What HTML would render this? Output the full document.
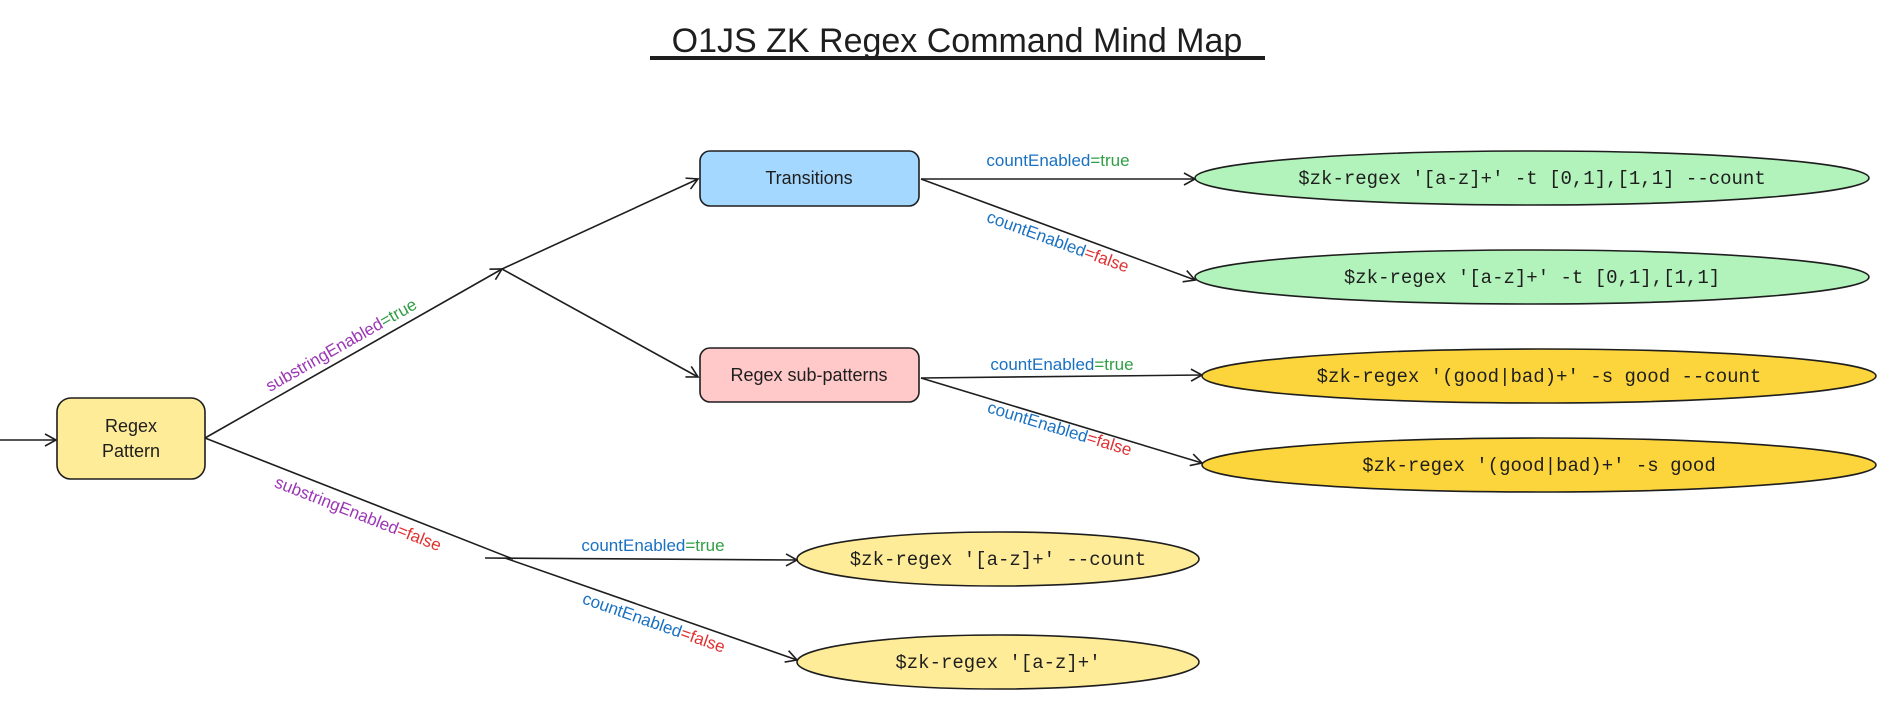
<!DOCTYPE html>
<html><head><meta charset="utf-8"><style>
html,body{margin:0;padding:0;background:#fff;}
svg{display:block;}
.l{font-family:"Liberation Sans",sans-serif;font-size:17px;}
.m{font-family:"Liberation Mono",monospace;font-size:19px;}
.n{font-family:"Liberation Sans",sans-serif;font-size:18px;}
</style></head><body>
<svg width="1893" height="722" viewBox="0 0 1893 722" xmlns="http://www.w3.org/2000/svg">
<defs><marker id="a" markerWidth="14" markerHeight="14" refX="12" refY="7" orient="auto" markerUnits="userSpaceOnUse"><path d="M1,1 L12,7 L1,13" fill="none" stroke="#1e1e1e" stroke-width="1.6"/></marker></defs>
<text x="957" y="52" text-anchor="middle" font-family="Liberation Sans,sans-serif" font-size="34" fill="#1e1e1e">O1JS ZK Regex Command Mind Map</text>
<line x1="650" y1="58" x2="1265" y2="58" stroke="#1e1e1e" stroke-width="4"/>
<g stroke="#1e1e1e" stroke-width="1.6" fill="none">
<line x1="0" y1="440" x2="56" y2="440" marker-end="url(#a)"/>
<line x1="205" y1="438" x2="502" y2="269" marker-end="url(#a)"/>
<line x1="502" y1="269" x2="698" y2="179" marker-end="url(#a)"/>
<line x1="502" y1="269" x2="698" y2="377" marker-end="url(#a)"/>
<line x1="205" y1="438" x2="513" y2="559"/>
<line x1="485" y1="558" x2="797" y2="560" marker-end="url(#a)"/>
<line x1="505" y1="558" x2="797" y2="660" marker-end="url(#a)"/>
<line x1="921" y1="179" x2="1195" y2="179" marker-end="url(#a)"/>
<line x1="921" y1="179" x2="1195" y2="280" marker-end="url(#a)"/>
<line x1="921" y1="378" x2="1202" y2="375" marker-end="url(#a)"/>
<line x1="921" y1="378" x2="1202" y2="463" marker-end="url(#a)"/>
</g>
<g stroke="#1e1e1e" stroke-width="1.6">
<rect x="57" y="398" width="148" height="81" rx="14" fill="#ffec99"/>
<rect x="700" y="151" width="219" height="55" rx="10" fill="#a5d8ff"/>
<rect x="700" y="348" width="219" height="54" rx="10" fill="#ffc9c9"/>
<ellipse cx="1532" cy="178" rx="337" ry="27" fill="#b2f2bb"/>
<ellipse cx="1532" cy="277" rx="337" ry="27" fill="#b2f2bb"/>
<ellipse cx="1539" cy="376" rx="337" ry="27" fill="#fcd43b"/>
<ellipse cx="1539" cy="465" rx="337" ry="27" fill="#fcd43b"/>
<ellipse cx="998" cy="559" rx="201" ry="27" fill="#ffec99"/>
<ellipse cx="998" cy="662" rx="201" ry="27" fill="#ffec99"/>
</g>
<g fill="#1e1e1e" text-anchor="middle">
<text class="n" x="131" y="432">Regex</text>
<text class="n" x="131" y="457">Pattern</text>
<text class="n" x="809" y="184">Transitions</text>
<text class="n" x="809" y="381">Regex sub-patterns</text>
<text class="m" x="1532" y="184">$zk-regex '[a-z]+' -t [0,1],[1,1] --count</text>
<text class="m" x="1532" y="283">$zk-regex '[a-z]+' -t [0,1],[1,1]</text>
<text class="m" x="1539" y="382">$zk-regex '(good|bad)+' -s good --count</text>
<text class="m" x="1539" y="471">$zk-regex '(good|bad)+' -s good</text>
<text class="m" x="998" y="565">$zk-regex '[a-z]+' --count</text>
<text class="m" x="998" y="668">$zk-regex '[a-z]+'</text>
</g>
<g text-anchor="middle" class="l">
<text class="l" x="1058" y="166"><tspan fill="#1971c2">countEnabled</tspan><tspan fill="#2f9e44">=true</tspan></text>
<text class="l" x="1062" y="370"><tspan fill="#1971c2">countEnabled</tspan><tspan fill="#2f9e44">=true</tspan></text>
<text class="l" x="653" y="551"><tspan fill="#1971c2">countEnabled</tspan><tspan fill="#2f9e44">=true</tspan></text>
<text class="l" transform="translate(1056,247) rotate(20)"><tspan fill="#1971c2">countEnabled</tspan><tspan fill="#e03131">=false</tspan></text>
<text class="l" transform="translate(1058,434) rotate(17)"><tspan fill="#1971c2">countEnabled</tspan><tspan fill="#e03131">=false</tspan></text>
<text class="l" transform="translate(652,628) rotate(19.4)"><tspan fill="#1971c2">countEnabled</tspan><tspan fill="#e03131">=false</tspan></text>
<text class="l" transform="translate(344,350) rotate(-29.6)"><tspan fill="#9c36b5">substringEnabled</tspan><tspan fill="#2f9e44">=true</tspan></text>
<text class="l" transform="translate(356,519) rotate(21.4)"><tspan fill="#9c36b5">substringEnabled</tspan><tspan fill="#e03131">=false</tspan></text>
</g>
</svg>
</body></html>
